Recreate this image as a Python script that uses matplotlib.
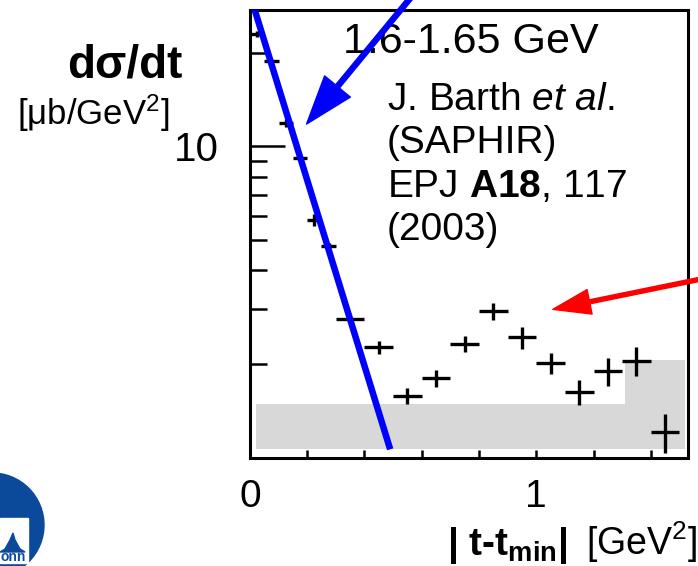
import matplotlib
matplotlib.use('Agg')
import matplotlib.pyplot as plt
from matplotlib.patches import Circle, Rectangle, Polygon
from matplotlib.ticker import FixedLocator, NullFormatter

plt.rcParams['font.family'] = 'Liberation Sans'
plt.rcParams['mathtext.fontset'] = 'custom'
plt.rcParams['mathtext.rm'] = 'Liberation Sans'
plt.rcParams['mathtext.it'] = 'Liberation Sans:italic'
plt.rcParams['mathtext.bf'] = 'Liberation Sans:bold'

# ---- data ----
t_centres = [0.025, 0.075, 0.125, 0.175, 0.225, 0.275, 0.35, 0.45, 0.55,
             0.65, 0.75, 0.85, 0.95, 1.05, 1.15, 1.25, 1.35, 1.45]
t_halfwidth = [0.025, 0.025, 0.025, 0.025, 0.025, 0.025, 0.05, 0.05, 0.05,
               0.05, 0.05, 0.05, 0.05, 0.05, 0.05, 0.05, 0.05, 0.05]
dsdt = [23.0, 18.8, 11.9, 9.2, 5.8, 4.8, 2.8, 2.27, 1.58,
        1.80, 2.33, 2.96, 2.44, 2.02, 1.63, 1.90, 2.05, 1.21]
dsdt_err = [0.5, 0.3, 0.35, 0.15, 0.26, 0.1, 0.04, 0.11, 0.095,
            0.11, 0.135, 0.19, 0.195, 0.16, 0.155, 0.2, 0.22, 0.17]

# systematic band
band_edges = [0.02, 1.31, 1.52]
band_top = [1.49, 2.07]
band_base = 1.07

# exponential fit (straight line on log scale)
fit_t = [0.0, 0.49]
fit_y = [30.8, 1.066]

# ---- figure ----
fig = plt.figure(figsize=(6.98, 5.66), dpi=100)
ax = fig.add_axes([0.358, 0.1908, 0.6277, 0.7915])

ax.stairs(band_top, band_edges, baseline=band_base, fill=True,
          color='#d8d8d8', zorder=1)
ax.errorbar(t_centres, dsdt, xerr=t_halfwidth, yerr=dsdt_err, fmt='none',
            ecolor='black', elinewidth=2.4, capsize=0, zorder=2)
ax.plot(fit_t, fit_y, color='#0000ff', lw=4.7, zorder=3, solid_capstyle='butt')

ax.set_yscale('log')
ax.set_xlim(0, 1.53)
ax.set_ylim(1, 27.4)

ax.yaxis.set_major_locator(FixedLocator([10]))
ax.yaxis.set_minor_locator(FixedLocator([2, 3, 4, 5, 6, 7, 8, 9, 20]))
ax.yaxis.set_minor_formatter(NullFormatter())
ax.set_yticklabels(['10'])
ax.set_xticks([0, 1])
ax.set_xticklabels(['0', '1'])
ax.xaxis.set_minor_locator(FixedLocator([0.2, 0.4, 0.6, 0.8, 1.2, 1.4]))

ax.tick_params(axis='y', which='major', direction='in', length=25, width=1.8,
               labelsize=29, pad=22)
ax.tick_params(axis='y', which='minor', direction='in', length=12, width=1.8)
ax.tick_params(axis='x', which='both', direction='in', length=6, width=1.8,
               labelsize=28, pad=15)
for s in ax.spines.values():
    s.set_linewidth(2.2)

# texts inside the frame
ax.text(0.212, 0.905, '1.6-1.65 GeV', transform=ax.transAxes, fontsize=31,
        va='baseline', zorder=4)
ref_lines = ['J. Barth $\\mathit{et\\ al}$.', '(SAPHIR)',
             'EPJ $\\mathbf{A18}$, 117', '(2003)']
for i, line in enumerate(ref_lines):
    fig.text(387 / 698, 1 - (110 + 43.5 * i) / 566, line, fontsize=28,
             va='baseline', ha='left')

# axis titles
fig.text(125 / 698, 1 - 77 / 566, 'd\u03c3/dt', fontsize=33, weight='bold',
         ha='center', va='baseline')
fig.text(93 / 698, 1 - 125 / 566, '[\u03bcb/GeV$^2$]', fontsize=25,
         ha='center', va='baseline')
fig.text(447 / 698, 1 - 555 / 566, '| t-t$_\\mathbf{min}$|', fontsize=28,
         weight='bold', ha='left', va='baseline')
fig.text(697 / 698, 1 - 555 / 566, '[GeV$^2$]', fontsize=27,
         ha='right', va='baseline')

# arrows
ax.annotate('', xy=(0.198, 11.8), xytext=(0.569, 30.6),
            arrowprops=dict(color='#0000ff', width=3.6, headwidth=24,
                            headlength=35, shrink=0),
            annotation_clip=False, zorder=5)
ax.annotate('', xy=(1.058, 3.0), xytext=(1.58, 3.76),
            arrowprops=dict(color='#ff0000', width=2.9, headwidth=18,
                            headlength=27, shrink=0),
            annotation_clip=False, zorder=5)

# university logo, cut by the image edge
logo_blue = '#0b4a9a'
fig.patches.append(Circle((-0.08, 0.41), 0.52, transform=fig.dpi_scale_trans,
                          color=logo_blue, figure=fig))
fig.patches.append(Rectangle((0, 0.03), 0.28, 0.45, transform=fig.dpi_scale_trans,
                             color='white', figure=fig))
fig.patches.append(Polygon([(0, 0.14), (0.05, 0.17), (0.1, 0.26), (0.13, 0.33),
                            (0.15, 0.26), (0.2, 0.17), (0.25, 0.14)],
                           transform=fig.dpi_scale_trans, color=logo_blue,
                           figure=fig))
fig.text(0.26 / 6.98, 0.02 / 5.66, 'onn', fontsize=10, weight='bold',
         color=logo_blue, ha='right', va='bottom')

fig.savefig('out.png', dpi=100)
